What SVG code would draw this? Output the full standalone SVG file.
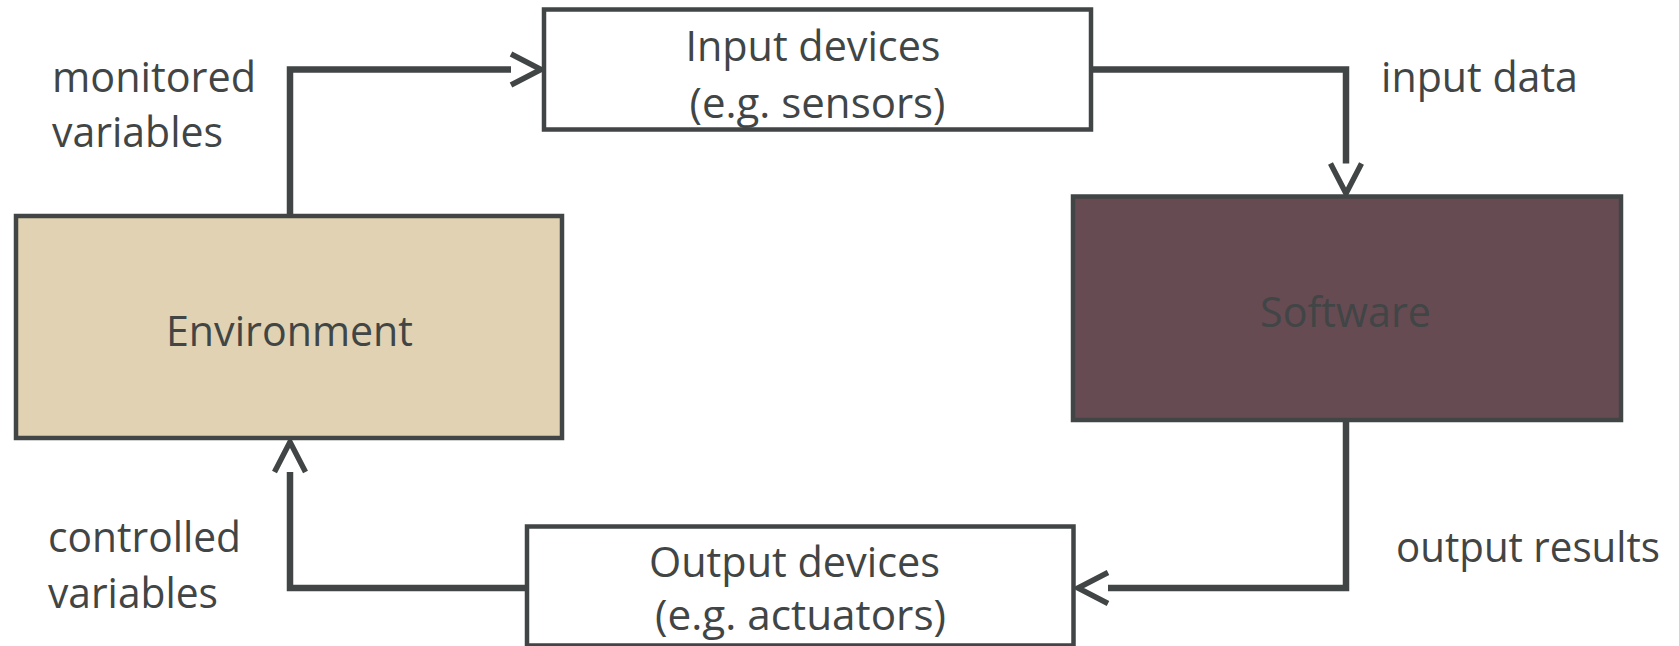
<svg xmlns="http://www.w3.org/2000/svg" width="1679" height="646" viewBox="0 0 1679 646">
  <style>
    .box { stroke: #414545; stroke-width: 4.5; }
    .plain { fill: #ffffff; }
    .env { fill: #e0d2b2; }
    .sw { fill: #674b53; }
    .conn { fill: none; stroke: #414545; stroke-width: 6.5; stroke-linejoin: miter; }
    .lbl { font-family: "Open Sans", "Noto Sans", "Liberation Sans", sans-serif; font-size: 42px; fill: #414545; }
  </style>
  <defs>
    <marker id="arrow" markerUnits="userSpaceOnUse" markerWidth="40" markerHeight="40" viewBox="-4 -20 40 40" refX="0" refY="0" orient="auto" overflow="visible">
      <polyline points="0,-15.5 30,0 0,15.5" fill="none" stroke="#414545" stroke-width="5.5" stroke-linejoin="miter"/>
    </marker>
  </defs>
  <rect width="1679" height="646" fill="#ffffff"/>

  <g id="connectors">
    <path class="conn" d="M290,216 V69.5 H511" marker-end="url(#arrow)"/>
    <path class="conn" d="M1091,69.5 H1346 V163.5" marker-end="url(#arrow)"/>
    <path class="conn" d="M1346,420 V588 H1108" marker-end="url(#arrow)"/>
    <path class="conn" d="M527,588 H290 V472" marker-end="url(#arrow)"/>
  </g>

  <g id="environment">
    <rect class="box env" x="16" y="216" width="546" height="222"/>
    <text class="lbl" x="166" y="346" textLength="247" lengthAdjust="spacingAndGlyphs">Environment</text>
  </g>

  <g id="input-devices">
    <rect class="box plain" x="544" y="9.5" width="547" height="120"/>
    <text class="lbl" x="685.5" y="61" textLength="255" lengthAdjust="spacingAndGlyphs">Input devices</text>
    <text class="lbl" x="689.5" y="118" textLength="256" lengthAdjust="spacingAndGlyphs">(e.g. sensors)</text>
  </g>

  <g id="software">
    <rect class="box sw" x="1073" y="196.5" width="548" height="223.5"/>
    <text class="lbl" x="1260" y="327" textLength="171" lengthAdjust="spacingAndGlyphs">Software</text>
  </g>

  <g id="output-devices">
    <rect class="box plain" x="527" y="526.5" width="546.5" height="119"/>
    <text class="lbl" x="649" y="577" textLength="291" lengthAdjust="spacingAndGlyphs">Output devices</text>
    <text class="lbl" x="655" y="630" textLength="291" lengthAdjust="spacingAndGlyphs">(e.g. actuators)</text>
  </g>

  <g id="labels">
    <text class="lbl" x="52" y="92" textLength="204" lengthAdjust="spacingAndGlyphs">monitored</text>
    <text class="lbl" x="52" y="147" textLength="171" lengthAdjust="spacingAndGlyphs">variables</text>
    <text class="lbl" x="1381" y="92" textLength="197" lengthAdjust="spacingAndGlyphs">input data</text>
    <text class="lbl" x="48" y="552" textLength="193" lengthAdjust="spacingAndGlyphs">controlled</text>
    <text class="lbl" x="48" y="608" textLength="170" lengthAdjust="spacingAndGlyphs">variables</text>
    <text class="lbl" x="1396" y="562" textLength="264" lengthAdjust="spacingAndGlyphs">output results</text>
  </g>
</svg>
